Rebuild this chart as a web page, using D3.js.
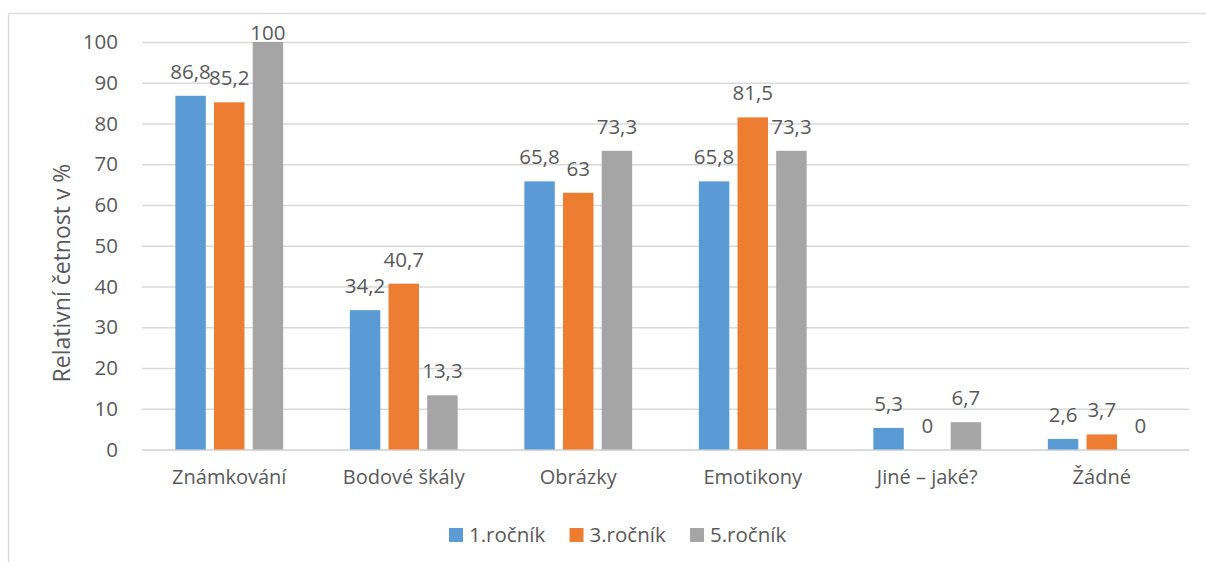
<!DOCTYPE html>
<html>
<head>
<meta charset="utf-8">
<script src="https://cdn.jsdelivr.net/npm/d3@7"></script>
<style>
  body { margin: 0; background: #fff; }
  svg text { font-family: "Open Sans", sans-serif; fill: #595959; }
</style>
</head>
<body>
<div id="canvas" class="canvas"></div>
<script>
// --- data
var categories = ["Známkování", "Bodové škály", "Obrázky", "Emotikony", "Jiné – jaké?", "Žádné"];
var seriesNames = ["1.ročník", "3.ročník", "5.ročník"];
var rocnik1 = [86.8, 34.2, 65.8, 65.8, 5.3, 2.6];
var rocnik3 = [85.2, 40.7, 63, 81.5, 0, 3.7];
var rocnik5 = [100, 13.3, 73.3, 73.3, 6.7, 0];
var yTicks = [0, 10, 20, 30, 40, 50, 60, 70, 80, 90, 100];
var colors = ["#5b9bd5", "#ed7d31", "#a5a5a5"];

var values = [rocnik1, rocnik3, rocnik5];

var W = 1206, H = 562;
var M = {top: 42, right: 17, bottom: 112.5, left: 142};

var svg = d3.select('.canvas')
    .append('svg')
    .attr('width', W)
    .attr('height', H);

// chart area frame (runs off the right and bottom of the picture)
svg.append('rect')
    .attr('x', 8.5).attr('y', 13.5)
    .attr('width', W + 20).attr('height', H + 20)
    .attr('fill', 'none')
    .attr('stroke', '#d9d9d9')
    .attr('stroke-width', 1.3);

var x0 = d3.scaleBand()
    .domain(categories)
    .range([M.left, W - M.right]);

// excel style: gap width 219%, overlap -27%
var x1 = d3.scaleBand()
    .domain(seriesNames)
    .range([0, x0.bandwidth()])
    .paddingInner(0.27 / 1.27)
    .paddingOuter(1.095 / 1.27);

var y = d3.scaleLinear()
    .domain([0, 100])
    .range([H - M.bottom, M.top]);

// --- gridlines
var yAxis = d3.axisLeft(y)
    .tickValues(yTicks)
    .tickSize(-(W - M.left - M.right))
    .tickPadding(24)
    .tickFormat(d3.format('d'));

var gy = svg.append('g')
    .attr('transform', 'translate(' + M.left + ',0)')
    .call(yAxis);
gy.select('.domain').remove();
gy.selectAll('.tick line').attr('stroke', '#d9d9d9').attr('stroke-width', 1.3);
gy.selectAll('.tick text')
    .style('font-size', '20.5px')
    .attr('fill', '#595959');

// --- category axis
var xAxis = d3.axisBottom(x0).tickSize(0).tickPadding(20);
var gx = svg.append('g')
    .attr('transform', 'translate(0,' + y(0) + ')')
    .call(xAxis);
gx.select('.domain').attr('stroke', '#d9d9d9').attr('stroke-width', 1.3);
gx.selectAll('.tick text')
    .style('font-size', '20px')
    .attr('fill', '#595959');

// --- bars
var fmt = function(v) { return String(v).replace('.', ','); };

seriesNames.forEach(function(s, si) {
    var g = svg.append('g');
    categories.forEach(function(c, ci) {
        var v = values[si][ci];
        var bx = x0(c) + x1(s);
        g.append('rect')
            .attr('x', bx)
            .attr('y', y(v))
            .attr('width', x1.bandwidth())
            .attr('height', y(0) - y(v))
            .attr('fill', colors[si]);
        g.append('text')
            .attr('x', bx + x1.bandwidth() / 2)
            .attr('y', Math.max(y(v) - 17, y(100) - 2))
            .attr('text-anchor', 'middle')
            .style('font-size', '20.5px')
            .text(fmt(v));
    });
});

// --- y axis title
svg.append('text')
    .attr('transform', 'translate(70,273) rotate(-90)')
    .attr('text-anchor', 'middle')
    .style('font-size', '23px')
    .text('Relativní četnost v %');

// --- legend
var legend = svg.append('g');
seriesNames.forEach(function(s, i) {
    var lx = 449 + i * 120.5;
    legend.append('rect')
        .attr('x', lx).attr('y', 528)
        .attr('width', 14).attr('height', 14)
        .attr('fill', colors[i]);
    legend.append('text')
        .attr('x', lx + 20).attr('y', 535)
        .attr('dy', '0.35em')
        .style('font-size', '20.5px')
        .text(s);
});
</script>
</body>
</html>
